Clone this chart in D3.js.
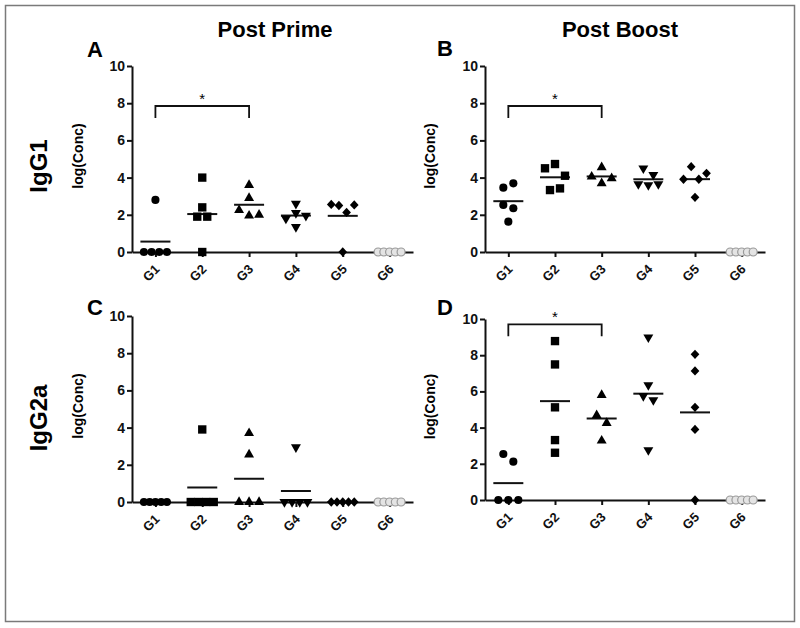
<!DOCTYPE html>
<html>
<head>
<meta charset="utf-8">
<script src="https://cdn.jsdelivr.net/npm/d3@7"></script>
<style>
  body { margin: 0; background: #fff; }
  text { font-family: Arial, "Liberation Sans", sans-serif; }
</style>
</head>
<body>
<svg width="800" height="628"></svg>
<script>
// data (values per group, in left-to-right order within a row)
const groups = ["G1", "G2", "G3", "G4", "G5", "G6"];
const yTicks = [0, 2, 4, 6, 8, 10];
const colTitles = ["Post Prime", "Post Boost"];
const rowTitles = ["IgG1", "IgG2a"];
const panelLetters = ["A", "B", "C", "D"];

const primeIgG1 = [
  [0, 0, 0, 0, 2.8],
  [4.0, 1.9, 1.9, 2.4, 0],
  [3.6, 2.9, 2.25, 1.95, 2.0],
  [1.8, 2.1, 1.95, 2.6, 1.35],
  [2.56, 2.5, 2.13, 2.53, 0],
  [0, 0, 0, 0, 0]
];
const boostIgG1 = [
  [3.46, 3.69, 2.53, 2.35, 1.63],
  [4.5, 4.73, 4.1, 3.33, 3.42],
  [4.55, 4.05, 3.69, 3.96],
  [4.5, 3.65, 3.6, 3.65, 4.15],
  [3.91, 4.59, 3.91, 4.23, 2.94],
  [0, 0, 0, 0, 0]
];
const primeIgG2a = [
  [0, 0, 0, 0, 0],
  [3.9, 0, 0, 0, 0],
  [3.7, 2.55, 0, 0, 0],
  [2.95, 0, 0, 0, 0],
  [0, 0, 0, 0, 0],
  [0, 0, 0, 0, 0]
];
const boostIgG2a = [
  [2.54, 2.12, 0, 0, 0],
  [8.78, 7.49, 5.12, 3.31, 2.61],
  [5.8, 4.68, 4.25, 3.28],
  [8.99, 6.35, 5.75, 5.52, 2.76],
  [8.05, 7.13, 5.12, 3.9, 0],
  [0, 0, 0, 0, 0]
];
// significance bracket G1 vs G3 (height in log units), null = none
const sigPairs = [["G1", "G3"], ["G1", "G3"], null, ["G1", "G3"]];
const sigLevels = [7.85, 7.85, null, 9.7];

const FONT = "Arial, 'Liberation Sans', sans-serif";
const svg = d3.select("svg");

// outer frame
svg.append("rect")
  .attr("x", 5.5).attr("y", 5.5)
  .attr("width", 789).attr("height", 616)
  .attr("fill", "none").attr("stroke", "#7a7a7a").attr("stroke-width", 1.5);

// column / row titles
[275, 620].forEach((cx, i) => {
  svg.append("text").attr("x", cx).attr("y", 37)
    .attr("text-anchor", "middle").attr("font-size", 22).attr("font-weight", "bold")
    .text(colTitles[i]);
});
[166, 418].forEach((cy, i) => {
  svg.append("text").attr("transform", `translate(47,${cy}) rotate(-90)`)
    .attr("text-anchor", "middle").attr("font-size", 24).attr("font-weight", "bold")
    .text(rowTitles[i]);
});

// diamond = square turned 45 degrees
const diamond = {
  draw(ctx, size) {
    const h = Math.sqrt(size / 2);
    ctx.moveTo(0, -h * 1.07);
    ctx.lineTo(h, 0);
    ctx.lineTo(0, h * 1.07);
    ctx.lineTo(-h, 0);
    ctx.closePath();
  }
};
const markers = [
  { type: d3.symbolCircle, size: 52, rot: 0 },
  { type: d3.symbolSquare, size: 70, rot: 0 },
  { type: d3.symbolTriangle, size: 43, rot: 0 },
  { type: d3.symbolTriangle, size: 43, rot: 180 },
  { type: diamond, size: 38, rot: 0 },
  { type: d3.symbolCircle, size: 50, rot: 0 }
];

// spread points with close values side by side, like a column scatter
function spread(vals, y) {
  const py = vals.map(v => y(v));
  const order = d3.range(vals.length).sort((a, b) => py[a] - py[b]);
  const rows = [];
  let cur = [order[0]];
  for (let k = 1; k < order.length; k++) {
    if (py[order[k]] - py[order[k - 1]] < 8) cur.push(order[k]);
    else { rows.push(cur); cur = [order[k]]; }
  }
  rows.push(cur);
  const off = vals.map(() => 0);
  rows.forEach(r => {
    r.sort((a, b) => a - b);
    const n = r.length;
    const step = n > 1 ? Math.min(10, 23 / (n - 1)) : 0;
    r.forEach((i, j) => { off[i] = (j - (n - 1) / 2) * step; });
  });
  return off;
}

const panels = [
  { vals: primeIgG1, x0: 132, x1: 413, yb: 252, yt: 66, lx: 87, ly: 57, labX: 83 },
  { vals: boostIgG1, x0: 485, x1: 765, yb: 252, yt: 66, lx: 437, ly: 56, labX: 435 },
  { vals: primeIgG2a, x0: 132, x1: 413, yb: 502, yt: 316, lx: 87, ly: 315, labX: 83 },
  { vals: boostIgG2a, x0: 485, x1: 765, yb: 500, yt: 319, lx: 437, ly: 315, labX: 435 }
];

panels.forEach((p, pi) => {
  const g = svg.append("g");
  const x = d3.scalePoint().domain(groups).range([p.x0, p.x1]).padding(0.5);
  const y = d3.scaleLinear().domain([0, 10]).range([p.yb, p.yt]);

  g.append("text").attr("x", p.lx).attr("y", p.ly)
    .attr("font-size", 22).attr("font-weight", "bold").text(panelLetters[pi]);

  g.append("text")
    .attr("transform", `translate(${p.labX},${(p.yb + p.yt) / 2 - 3}) rotate(-90)`)
    .attr("text-anchor", "middle").attr("font-size", 14).attr("font-weight", "bold")
    .text("log(Conc)");

  // axes: lines and ticks from d3, labels drawn separately
  const yAxis = g.append("g").attr("transform", `translate(${p.x0},0)`)
    .call(d3.axisLeft(y).tickValues(yTicks).tickSize(5).tickSizeOuter(0).tickFormat(() => ""));
  const xAxis = g.append("g").attr("transform", `translate(0,${p.yb})`)
    .call(d3.axisBottom(x).tickSize(5).tickSizeOuter(0).tickFormat(() => ""));
  [yAxis, xAxis].forEach(a => {
    a.select(".domain").attr("stroke", "#111").attr("stroke-width", 2);
    a.selectAll(".tick line").attr("stroke", "#111").attr("stroke-width", 2);
  });

  g.selectAll(null).data(yTicks).enter().append("text")
    .attr("x", p.x0 - 7).attr("y", d => y(d))
    .attr("dy", "0.36em")
    .attr("text-anchor", "end")
    .attr("font-family", FONT).attr("font-size", 14).attr("font-weight", "bold")
    .attr("fill", "#111")
    .text(d => d);

  // slanted group labels
  g.selectAll(null).data(groups).enter().append("text")
    .attr("transform", d => `translate(${x(d) + 5},${p.yb + 18}) rotate(-45)`)
    .attr("text-anchor", "end")
    .attr("font-family", FONT).attr("font-size", 13).attr("font-weight", "bold")
    .attr("fill", "#111")
    .text(d => d);

  // significance bracket
  if (sigPairs[pi]) {
    const lev = sigLevels[pi];
    const xa = x(sigPairs[pi][0]), xb = x(sigPairs[pi][1]);
    g.append("path")
      .attr("d", `M${xa},${y(lev - 0.65)}V${y(lev)}H${xb}V${y(lev - 0.65)}`)
      .attr("fill", "none").attr("stroke", "#111").attr("stroke-width", 1.8);
    g.append("text").attr("x", (xa + xb) / 2).attr("y", y(lev) - 2)
      .attr("text-anchor", "middle").attr("font-size", 15).text("*");
  }

  p.vals.forEach((vals, gi) => {
    const cx = x(groups[gi]);
    // mean line
    const m = d3.mean(vals);
    g.append("line")
      .attr("x1", cx - 15).attr("x2", cx + 15)
      .attr("y1", y(m)).attr("y2", y(m))
      .attr("stroke", "#111").attr("stroke-width", 2);

    const off = spread(vals, y);
    const mk = markers[gi];
    const sym = d3.symbol().type(mk.type).size(mk.size);
    const open = gi === 5;
    g.selectAll(null).data(vals).enter().append("path")
      .attr("d", sym)
      .attr("transform", (d, i) => `translate(${cx + off[i]},${y(d)}) rotate(${mk.rot})`)
      .attr("fill", open ? "#e4e4e4" : "#000")
      .attr("stroke", open ? "#9a9a9a" : "none")
      .attr("stroke-width", 1.2);
  });
});
</script>
</body>
</html>
